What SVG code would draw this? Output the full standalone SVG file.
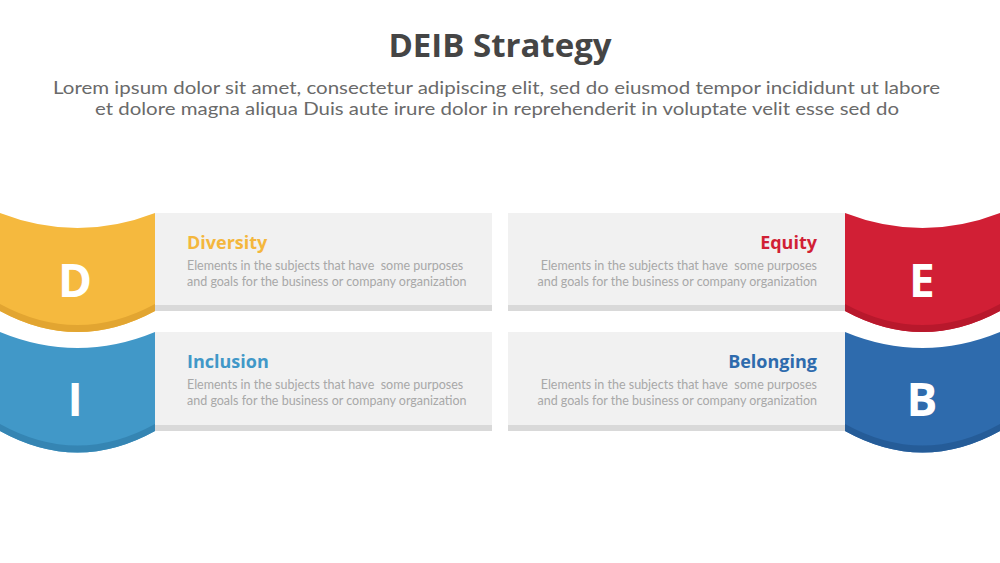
<svg xmlns="http://www.w3.org/2000/svg" width="1000" height="563" viewBox="0 0 1000 563">
<style>
.title{font-family:"Open Sans","Liberation Sans",sans-serif;font-weight:700;font-size:33px;fill:#454545}
.sub{font-family:Lato,"Liberation Sans",sans-serif;font-size:17.5px;fill:#6a6a6a}
.box{fill:#f1f1f1}
.sh{fill:#d9d9d9}
.head{font-family:"Open Sans","Liberation Sans",sans-serif;font-weight:700;font-size:18px}
.desc{font-family:Lato,"Liberation Sans",sans-serif;font-size:12.5px;fill:#a8a8a8;white-space:pre}
.let{font-family:"Open Sans","Liberation Sans",sans-serif;font-weight:700;font-size:46px;fill:#fff;text-anchor:middle}
.r{text-anchor:end}
</style>
<rect width="1000" height="563" fill="#fff"/>
<g id="header">
<text class="title" x="500" y="57" text-anchor="middle">DEIB Strategy</text>
<text class="sub" x="53" y="93.5" textLength="887" lengthAdjust="spacingAndGlyphs">Lorem ipsum dolor sit amet, consectetur adipiscing elit, sed do eiusmod tempor incididunt ut labore</text>
<text class="sub" x="95" y="115" textLength="804" lengthAdjust="spacingAndGlyphs">et dolore magna aliqua Duis aute irure dolor in reprehenderit in voluptate velit esse sed do</text>
</g>
<g id="diversity">
<rect class="box" x="155" y="213" width="337" height="98"/>
<rect class="sh" x="155" y="305" width="337" height="6"/>
<path d="M0,213 Q77.5,243 155,213 L155,311 Q77.5,353 0,311 Z" fill="#f5b93e"/>
<path d="M0,304 Q77.5,346 155,304 L155,311 Q77.5,353 0,311 Z" fill="#e2a531"/>
<text class="let" x="75" y="297">D</text>
<text class="head" x="187" y="249" fill="#f4b73d">Diversity</text>
<text class="desc" x="187" y="270">Elements in the subjects that have  some purposes</text>
<text class="desc" x="187" y="286">and goals for the business or company organization</text>
</g>
<g id="inclusion">
<rect class="box" x="155" y="332" width="337" height="99"/>
<rect class="sh" x="155" y="425" width="337" height="6"/>
<path d="M0,332 Q77.5,364 155,332 L155,431 Q77.5,474 0,431 Z" fill="#4198c8"/>
<path d="M0,424 Q77.5,467 155,424 L155,431 Q77.5,474 0,431 Z" fill="#3585b3"/>
<text class="let" x="75" y="416">I</text>
<text class="head" x="187" y="368" fill="#4198c8">Inclusion</text>
<text class="desc" x="187" y="389">Elements in the subjects that have  some purposes</text>
<text class="desc" x="187" y="405">and goals for the business or company organization</text>
</g>
<g id="equity">
<rect class="box" x="508" y="213" width="337" height="98"/>
<rect class="sh" x="508" y="305" width="337" height="6"/>
<path d="M845,213 Q922.5,243 1000,213 L1000,311 Q922.5,353 845,311 Z" fill="#d11f35"/>
<path d="M845,304 Q922.5,346 1000,304 L1000,311 Q922.5,353 845,311 Z" fill="#b8182c"/>
<text class="let" x="922" y="297">E</text>
<text class="head r" x="817" y="249" fill="#d11f35">Equity</text>
<text class="desc r" x="817" y="270">Elements in the subjects that have  some purposes</text>
<text class="desc r" x="817" y="286">and goals for the business or company organization</text>
</g>
<g id="belonging">
<rect class="box" x="508" y="332" width="337" height="99"/>
<rect class="sh" x="508" y="425" width="337" height="6"/>
<path d="M845,332 Q922.5,364 1000,332 L1000,431 Q922.5,474 845,431 Z" fill="#2e6bad"/>
<path d="M845,424 Q922.5,467 1000,424 L1000,431 Q922.5,474 845,431 Z" fill="#255c98"/>
<text class="let" x="922" y="416">B</text>
<text class="head r" x="817" y="368" fill="#2e6bad">Belonging</text>
<text class="desc r" x="817" y="389">Elements in the subjects that have  some purposes</text>
<text class="desc r" x="817" y="405">and goals for the business or company organization</text>
</g>
<g id="connectors"/>
</svg>
